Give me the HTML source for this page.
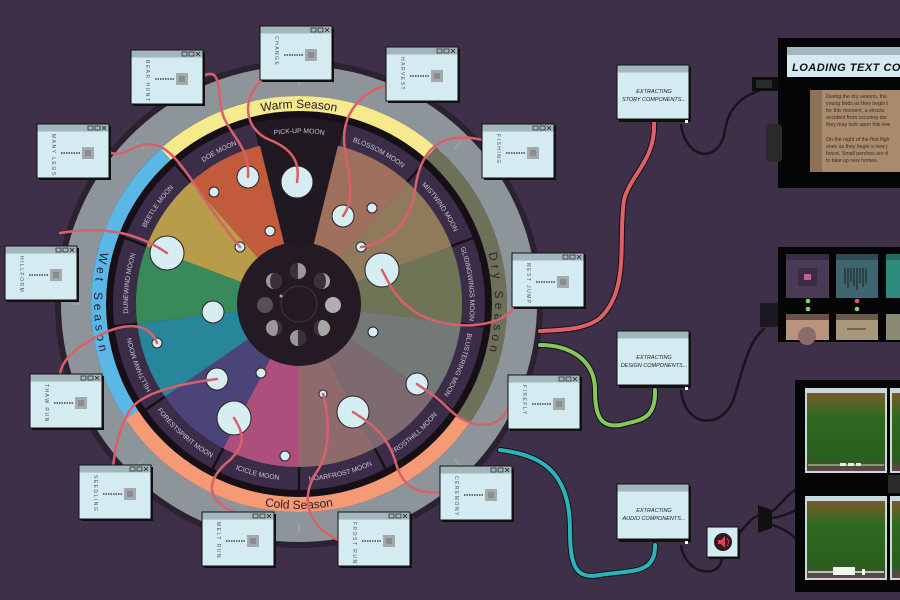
<!DOCTYPE html>
<html><head><meta charset="utf-8"><style>
html,body{margin:0;padding:0;background:#3e3048;}
svg{display:block;font-family:"Liberation Sans",sans-serif;}
</style></head><body>
<svg width="900" height="600" viewBox="0 0 900 600" xmlns="http://www.w3.org/2000/svg">
<defs>
<path id="warm" d="M173,153.9 A196,196 0 0 1 425,153.9"/>
<path id="dry" d="M449.1,178 A196,196 0 0 1 449.1,430"/>
<path id="wet" d="M142,172.2 A205,205 0 0 0 142,435.8"/>
<path id="cold" d="M142,435.8 A205,205 0 0 0 456,435.8"/>
<path id="cw" d="M299,475 A171,171 0 0 1 299,133 A171,171 0 0 1 299,475"/>
<path id="ccw" d="M299,127 A177,177 0 0 0 299,481 A177,177 0 0 0 299,127"/>
<linearGradient id="spec" x1="0" y1="0" x2="0" y2="1">
<stop offset="0" stop-color="#7a5a2a"/><stop offset="0.3" stop-color="#2f6a22"/><stop offset="0.85" stop-color="#2a5e1e"/><stop offset="1" stop-color="#6a4050"/>
</linearGradient>
<g id="box">
<rect x="2" y="2" width="72" height="54" fill="#111"/>
<rect x="0" y="0" width="72" height="54" fill="#d3ebf1" stroke="#111" stroke-width="1"/>
<rect x="0.5" y="0.5" width="71" height="7" fill="#a3b6bb"/>
<rect x="51" y="2" width="5" height="4" fill="none" stroke="#222" stroke-width="0.7"/>
<rect x="58" y="2" width="5" height="4" fill="none" stroke="#222" stroke-width="0.7"/>
<path d="M65,2 L69,6 M69,2 L65,6" stroke="#222" stroke-width="0.8"/>
<line x1="24" y1="29" x2="44" y2="29" stroke="#222" stroke-width="1.2" stroke-dasharray="1.5,1"/>
<rect x="45" y="23" width="12" height="12" fill="#a4aaab"/>
<rect x="48" y="26" width="6" height="6" fill="#888e90"/>
</g>
</defs>

<circle cx="299" cy="304" r="241" fill="none" stroke="#2b2131" stroke-width="6"/>
<circle cx="299" cy="304" r="223" fill="none" stroke="#8e959a" stroke-width="30"/>
<g stroke="#a3aaaf" stroke-width="1.2">
<line x1="80" y1="304" x2="70" y2="304"/><line x1="518" y1="304" x2="528" y2="304"/>
<line x1="299" y1="85" x2="299" y2="75"/><line x1="299" y1="523" x2="299" y2="533"/>
<line x1="144" y1="149" x2="137" y2="142"/><line x1="454" y1="149" x2="461" y2="142"/>
<line x1="144" y1="459" x2="137" y2="466"/><line x1="454" y1="459" x2="461" y2="466"/>
</g>
<circle cx="299" cy="304" r="193" fill="#161016"/>
<g fill="none" stroke-width="15">
<path d="M165.7,154.3 A200.5,200.5 0 0 1 430.8,152.9" stroke="#f7ea8c"/>
<path d="M430.8,152.9 A200.5,200.5 0 0 1 463.2,419" stroke="#6d7159"/>
<path d="M463.2,419 A200.5,200.5 0 0 1 131.8,414.7" stroke="#f59a74"/>
<path d="M131.8,414.7 A200.5,200.5 0 0 1 165.7,154.3" stroke="#5bb8e6"/>
</g>
<g font-size="12" fill="#2a2030">
<text><textPath href="#warm" startOffset="50%" text-anchor="middle">Warm Season</textPath></text>
<text letter-spacing="4"><textPath href="#dry" startOffset="50%" text-anchor="middle">Dry Season</textPath></text>
<text letter-spacing="4"><textPath href="#wet" startOffset="50%" text-anchor="middle">Wet Season</textPath></text>
<text><textPath href="#cold" startOffset="50%" text-anchor="middle">Cold Season</textPath></text>
</g>
<circle cx="299" cy="304" r="186" fill="#3b2d48"/>
<g stroke="#161016" stroke-width="2.5">
<line x1="260" y1="145.7" x2="254.5" y2="123.4"/><line x1="338" y1="145.7" x2="343.5" y2="123.4"/>
<line x1="407.1" y1="182" x2="422.3" y2="164.8"/><line x1="451.4" y1="246.2" x2="472.9" y2="238"/>
<line x1="460.8" y1="323.6" x2="483.6" y2="326.4"/><line x1="433.1" y1="396.6" x2="452.1" y2="409.7"/>
<line x1="374.7" y1="448.3" x2="385.4" y2="468.7"/><line x1="299" y1="467" x2="299" y2="490"/>
<line x1="223.3" y1="448.3" x2="212.6" y2="468.7"/><line x1="164.9" y1="396.6" x2="145.9" y2="409.7"/>
<line x1="137.2" y1="323.6" x2="114.4" y2="326.4"/><line x1="146.6" y1="246.2" x2="125.1" y2="238"/>
<line x1="190.9" y1="182" x2="175.7" y2="164.8"/>
</g>
<path d="M299,304 L254.5,123.4 A186,186 0 0 1 343.5,123.4 Z" fill="#211921"/>
<path d="M299,304 L338,145.7 A163,163 0 0 1 407.1,182 Z" fill="#a0705f"/>
<path d="M299,304 L407.1,182 A163,163 0 0 1 451.4,246.2 Z" fill="#8f7b5c"/>
<path d="M299,304 L451.4,246.2 A163,163 0 0 1 460.8,323.6 Z" fill="#6f7456"/>
<path d="M299,304 L460.8,323.6 A163,163 0 0 1 433.1,396.6 Z" fill="#727977"/>
<path d="M299,304 L433.1,396.6 A163,163 0 0 1 374.7,448.3 Z" fill="#7d6a71"/>
<path d="M299,304 L374.7,448.3 A163,163 0 0 1 299,467 Z" fill="#8f6a6c"/>
<path d="M299,304 L299,467 A163,163 0 0 1 223.3,448.3 Z" fill="#ad4f7c"/>
<path d="M299,304 L223.3,448.3 A163,163 0 0 1 164.9,396.6 Z" fill="#4b4479"/>
<path d="M299,304 L164.9,396.6 A163,163 0 0 1 137.2,323.6 Z" fill="#27869a"/>
<path d="M299,304 L137.2,323.6 A163,163 0 0 1 146.6,246.2 Z" fill="#388a5b"/>
<path d="M299,304 L146.6,246.2 A163,163 0 0 1 190.9,182 Z" fill="#b89c4a"/>
<path d="M299,304 L190.9,182 A163,163 0 0 1 260,145.7 Z" fill="#c25a3c"/>
<g font-size="6.8" fill="#c9c6d2">
<text><textPath href="#cw" startOffset="537.2" text-anchor="middle">PICK-UP MOON</textPath></text>
<text><textPath href="#cw" startOffset="619.9" text-anchor="middle">BLOSSOM MOON</textPath></text>
<text><textPath href="#cw" startOffset="702.5" text-anchor="middle">MISTWIND MOON</textPath></text>
<text><textPath href="#cw" startOffset="785.2" text-anchor="middle">GLIDINGWINGS MOON</textPath></text>
<text><textPath href="#cw" startOffset="867.9" text-anchor="middle">BLUSTERING MOON</textPath></text>
<text><textPath href="#cw" startOffset="206.5" text-anchor="middle">HILLTHAW MOON</textPath></text>
<text><textPath href="#cw" startOffset="289.2" text-anchor="middle">DUNEWIND MOON</textPath></text>
<text><textPath href="#cw" startOffset="371.9" text-anchor="middle">BEETLE MOON</textPath></text>
<text><textPath href="#cw" startOffset="454.5" text-anchor="middle">DOE MOON</textPath></text>
<text><textPath href="#ccw" startOffset="684.3" text-anchor="middle">FROSTHILL MOON</textPath></text>
<text><textPath href="#ccw" startOffset="598.7" text-anchor="middle">HOARFROST MOON</textPath></text>
<text><textPath href="#ccw" startOffset="513.4" text-anchor="middle">ICICLE MOON</textPath></text>
<text><textPath href="#ccw" startOffset="427.8" text-anchor="middle">FORESTSPIRIT MOON</textPath></text>
</g>
<circle cx="299" cy="304" r="62" fill="#231a24"/>
<circle cx="299" cy="304" r="18" fill="none" stroke="#4a3e4c" stroke-width="0.8"/>
<circle cx="281" cy="296" r="1.5" fill="#aaa"/>
<g>
<circle cx="298" cy="271" r="8" fill="#9a9898"/><path d="M298,263 A8,8 0 0 0 298,279 Z" fill="#3a3238"/>
<circle cx="322" cy="281" r="8" fill="#a8a6a6"/><path d="M322,273 A8,8 0 0 0 322,289 A4,8 0 0 0 322,273 Z" fill="#3a3238"/>
<circle cx="333" cy="305" r="8" fill="#b0aeae"/>
<circle cx="322" cy="328" r="8" fill="#a8a6a6"/><path d="M322,320 A8,8 0 0 0 322,336 A4,8 0 0 1 322,320 Z" fill="#3a3238"/>
<circle cx="298" cy="338" r="8" fill="#9a9898"/><path d="M298,330 A8,8 0 0 1 298,346 Z" fill="#3a3238"/>
<circle cx="274" cy="328" r="8" fill="#9a9898"/><path d="M274,320 A8,8 0 0 1 274,336 A4,8 0 0 0 274,320 Z" fill="#3a3238"/>
<circle cx="265" cy="305" r="8" fill="#555055"/>
<circle cx="274" cy="281" r="8" fill="#9a9898"/><path d="M274,273 A8,8 0 0 1 274,289 A4,8 0 0 1 274,273 Z" fill="#3a3238"/>
</g>
<g fill="#d6edf2" stroke="#2a2228" stroke-width="1">
<circle cx="248" cy="177" r="11"/><circle cx="297" cy="182" r="16"/><circle cx="343" cy="216" r="11"/>
<circle cx="372" cy="208" r="5"/><circle cx="361" cy="247" r="5"/><circle cx="382" cy="270" r="17"/>
<circle cx="373" cy="332" r="5"/><circle cx="417" cy="384" r="11"/><circle cx="353" cy="412" r="16"/>
<circle cx="323" cy="394" r="4"/><circle cx="285" cy="456" r="5"/><circle cx="234" cy="418" r="17"/>
<circle cx="261" cy="373" r="5"/><circle cx="217" cy="379" r="11"/><circle cx="157" cy="343" r="5"/>
<circle cx="213" cy="312" r="11"/><circle cx="167" cy="253" r="17"/><circle cx="240" cy="247" r="5"/>
<circle cx="270" cy="231" r="5"/><circle cx="214" cy="192" r="5"/>
</g>
<g fill="none" stroke="#d8606c" stroke-width="2.5" stroke-linecap="round">
<path d="M203,76 C225,65 215,100 225,120 C235,140 250,150 248,177"/>
<path d="M262,80 C240,100 245,130 270,140 C295,150 300,165 297,182"/>
<path d="M386,85 C355,95 340,120 345,150 C350,180 355,200 343,216"/>
<path d="M483,140 C440,130 420,150 415,190 C410,230 380,245 361,247"/>
<path d="M515,306 C500,330 450,330 420,315 C395,300 390,285 382,270"/>
<path d="M508,408 C500,430 470,430 450,410 C435,395 425,390 417,384"/>
<path d="M440,492 C410,495 400,480 395,460 C385,430 365,420 353,412"/>
<path d="M323,394 C330,420 330,450 318,470 C300,495 305,525 338,540"/>
<path d="M234,418 C245,435 245,445 230,460 C205,480 205,500 236,513"/>
<path d="M217,379 C170,385 140,395 130,410 C118,430 115,450 113,467"/>
<path d="M157,343 C150,325 130,320 100,335 C75,348 62,360 60,374"/>
<path d="M167,253 C140,235 110,225 60,233"/>
<path d="M109,152 C125,160 135,140 155,145 C180,150 200,200 240,247"/>
</g>
<use href="#box" x="131" y="50"/><use href="#box" x="260" y="26"/><use href="#box" x="386" y="47"/>
<use href="#box" x="482" y="124"/><use href="#box" x="512" y="253"/><use href="#box" x="508" y="375"/>
<use href="#box" x="440" y="466"/><use href="#box" x="338" y="512"/><use href="#box" x="202" y="512"/>
<use href="#box" x="79" y="465"/><use href="#box" x="30" y="374"/><use href="#box" x="5" y="246"/>
<use href="#box" x="37" y="124"/>
<g font-size="5" fill="#556" letter-spacing="1.5">
<text transform="translate(146,60) rotate(90)">BEAR HUNT</text>
<text transform="translate(275,36) rotate(90)">CHANGE</text>
<text transform="translate(401,57) rotate(90)">HARVEST</text>
<text transform="translate(497,134) rotate(90)">FISHING</text>
<text transform="translate(527,263) rotate(90)">NEST JUMP</text>
<text transform="translate(523,385) rotate(90)">FIREFLY</text>
<text transform="translate(455,476) rotate(90)">CEREMONY</text>
<text transform="translate(353,522) rotate(90)">FROST RUN</text>
<text transform="translate(217,522) rotate(90)">MELT RUN</text>
<text transform="translate(94,475) rotate(90)">SEEDLING</text>
<text transform="translate(45,384) rotate(90)">THAW RUN</text>
<text transform="translate(20,256) rotate(90)">HILLFORM</text>
<text transform="translate(52,134) rotate(90)">MANY LEGS</text>
</g>

<g fill="none" stroke-linecap="round">
<path d="M654,122 C656,160 630,175 624,200 C618,240 630,290 600,318 C585,330 560,330 540,331" stroke="#111" stroke-width="6"/>
<path d="M654,122 C656,160 630,175 624,200 C618,240 630,290 600,318 C585,330 560,330 540,331" stroke="#e0606a" stroke-width="4"/>
<path d="M655,390 C656,420 640,420 620,425 C600,428 595,415 595,390 C595,360 570,345 540,345" stroke="#111" stroke-width="6"/>
<path d="M655,390 C656,420 640,420 620,425 C600,428 595,415 595,390 C595,360 570,345 540,345" stroke="#86c85a" stroke-width="4"/>
<path d="M655,545 C656,575 630,570 600,575 C575,580 570,565 570,530 C570,470 540,455 500,450" stroke="#111" stroke-width="6"/>
<path d="M655,545 C656,575 630,570 600,575 C575,580 570,565 570,530 C570,470 540,455 500,450" stroke="#2bb4bf" stroke-width="4"/>
</g>
<g fill="none" stroke="#1a141c" stroke-width="2.5">
<path d="M681,124 C685,160 720,165 725,130 C730,100 750,95 760,90"/>
<path d="M681,390 C685,430 725,430 735,395 C745,360 750,340 765,328"/>
<path d="M681,545 C685,575 720,580 722,558"/>
<path d="M738,535 C750,520 755,515 762,515"/>
<path d="M772,512 C785,500 790,490 805,485 M772,518 C790,515 795,510 805,505 M772,525 C790,530 795,540 805,545"/>
</g>
<g>
<rect x="619" y="67" width="72" height="55" fill="#111"/>
<rect x="617" y="65" width="72" height="54" fill="#d3ebf1" stroke="#111"/>
<rect x="617.5" y="65.5" width="71" height="7" fill="#a3b6bb"/>
<rect x="619" y="333" width="72" height="55" fill="#111"/>
<rect x="617" y="331" width="72" height="54" fill="#d3ebf1" stroke="#111"/>
<rect x="617.5" y="331.5" width="71" height="7" fill="#a3b6bb"/>
<rect x="619" y="486" width="72" height="56" fill="#111"/>
<rect x="617" y="484" width="72" height="55" fill="#d3ebf1" stroke="#111"/>
<rect x="617.5" y="484.5" width="71" height="7" fill="#a3b6bb"/>
<rect x="685" y="120" width="3" height="3" fill="#fff"/><rect x="685" y="387" width="3" height="3" fill="#fff"/><rect x="685" y="541" width="3" height="3" fill="#fff"/>
</g>
<g font-size="5.5" font-style="italic" fill="#222" text-anchor="middle">
<text x="654" y="93">EXTRACTING</text><text x="654" y="101">STORY COMPONENTS...</text>
<text x="654" y="359">EXTRACTING</text><text x="654" y="367">DESIGN COMPONENTS...</text>
<text x="654" y="512">EXTRACTING</text><text x="654" y="520">AUDIO COMPONENTS...</text>
</g>
<rect x="709" y="529" width="31" height="30" fill="#111"/>
<rect x="707" y="527" width="31" height="30" fill="#d3ebf1" stroke="#111"/>
<circle cx="723" cy="542" r="9" fill="#2a1c22"/>
<path d="M718,540 h3 l4,-4 v12 l-4,-4 h-3 Z" fill="#e04050"/>
<path d="M727,538 q3,4 0,8" stroke="#e04050" fill="none" stroke-width="1"/>
<path d="M758,505 L772,510 L772,528 L758,533 Z" fill="#111"/>

<rect x="778" y="38" width="122" height="150" fill="#050505"/>
<rect x="752" y="77" width="26" height="14" fill="#0d0d0d"/><rect x="756" y="80" width="16" height="8" fill="#2a2a2a"/>
<rect x="766" y="124" width="16" height="38" rx="4" fill="#2a2a2a"/>
<rect x="787" y="47" width="113" height="30" fill="#d3ebf1"/>
<rect x="787" y="47" width="113" height="8" fill="#a3b6bb"/>
<text x="792" y="71" font-size="11" font-style="italic" font-weight="bold" fill="#111" letter-spacing="0.5">LOADING TEXT COMP</text>
<rect x="810" y="90" width="90" height="82" fill="#a88a6c"/>
<rect x="810" y="90" width="12" height="82" fill="#8e7258"/>
<g font-size="5.2" fill="#3b2c22">
<text x="826" y="98">During the dry season, the</text>
<text x="826" y="105">young birds as they begin t</text>
<text x="826" y="112">for this moment, a structu</text>
<text x="826" y="119">accident from occuring dur</text>
<text x="826" y="126">they may look upon this eve</text>
<text x="826" y="141">On the night of the first fligh</text>
<text x="826" y="148">ones as they begin a new j</text>
<text x="826" y="155">forest. Small perches are d</text>
<text x="826" y="162">to take up new homes.</text>
</g>
<rect x="778" y="247" width="122" height="95" fill="#050505"/>
<rect x="760" y="303" width="18" height="24" fill="#1c1820"/>
<rect x="786" y="254" width="43" height="44" fill="#4a3a55"/><rect x="786" y="254" width="43" height="6" fill="#3a2c44"/>
<rect x="798" y="268" width="19" height="18" fill="#3a2c44"/><rect x="804" y="274" width="7" height="6" fill="#c85a9a"/>
<rect x="836" y="254" width="42" height="44" fill="#3f6670"/><rect x="836" y="254" width="42" height="6" fill="#2f4a52"/>
<g stroke="#1e2a30" stroke-width="1.2"><path d="M845,268 v16 M848,268 v20 M851,268 v14 M854,268 v18 M857,268 v22 M860,268 v15 M863,268 v19 M866,268 v16"/></g>
<rect x="886" y="254" width="14" height="44" fill="#2f8a7e"/><rect x="886" y="254" width="14" height="6" fill="#246a60"/>
<circle cx="808" cy="301" r="2.3" fill="#8fd060"/><circle cx="808" cy="309" r="2.3" fill="#8fd060"/>
<circle cx="857" cy="301" r="2.3" fill="#e05070"/><circle cx="857" cy="309" r="2.3" fill="#8fd060"/>
<rect x="786" y="314" width="43" height="26" fill="#b8957a"/><rect x="786" y="314" width="43" height="6" fill="#6a5248"/>
<circle cx="807" cy="336" r="9" fill="#8a6a6a"/>
<rect x="836" y="314" width="42" height="26" fill="#a8987a"/><rect x="836" y="314" width="42" height="6" fill="#6a5c4a"/>
<line x1="847" y1="329" x2="866" y2="329" stroke="#3a3028" stroke-width="1"/>
<rect x="886" y="314" width="14" height="26" fill="#8a8a74"/>
<rect x="795" y="380" width="105" height="212" fill="#050505"/>
<g>
<rect x="805" y="388" width="82" height="85" fill="#c8d8dc"/><rect x="807" y="393" width="78" height="78" fill="url(#spec)"/>
<rect x="890" y="388" width="10" height="85" fill="#c8d8dc"/><rect x="892" y="393" width="8" height="78" fill="url(#spec)"/>
<rect x="805" y="496" width="82" height="84" fill="#c8d8dc"/><rect x="807" y="501" width="78" height="77" fill="url(#spec)"/>
<rect x="890" y="496" width="10" height="84" fill="#c8d8dc"/><rect x="892" y="501" width="8" height="77" fill="url(#spec)"/>
<line x1="808" y1="465" x2="884" y2="465" stroke="#b8e0b0" stroke-width="1"/>
<rect x="840" y="463" width="6" height="3" fill="#e0f0e0"/><rect x="848" y="463" width="6" height="3" fill="#e0f0e0"/><rect x="856" y="463" width="5" height="3" fill="#e0f0e0"/>
<line x1="808" y1="572" x2="884" y2="572" stroke="#e0f0e0" stroke-width="1.5"/>
<rect x="833" y="567" width="22" height="8" fill="#eef8ee"/><rect x="862" y="569" width="3" height="6" fill="#eef8ee"/>
<rect x="888" y="475" width="12" height="18" fill="#2a2a2a"/>
</g>
</svg>
</body></html>
